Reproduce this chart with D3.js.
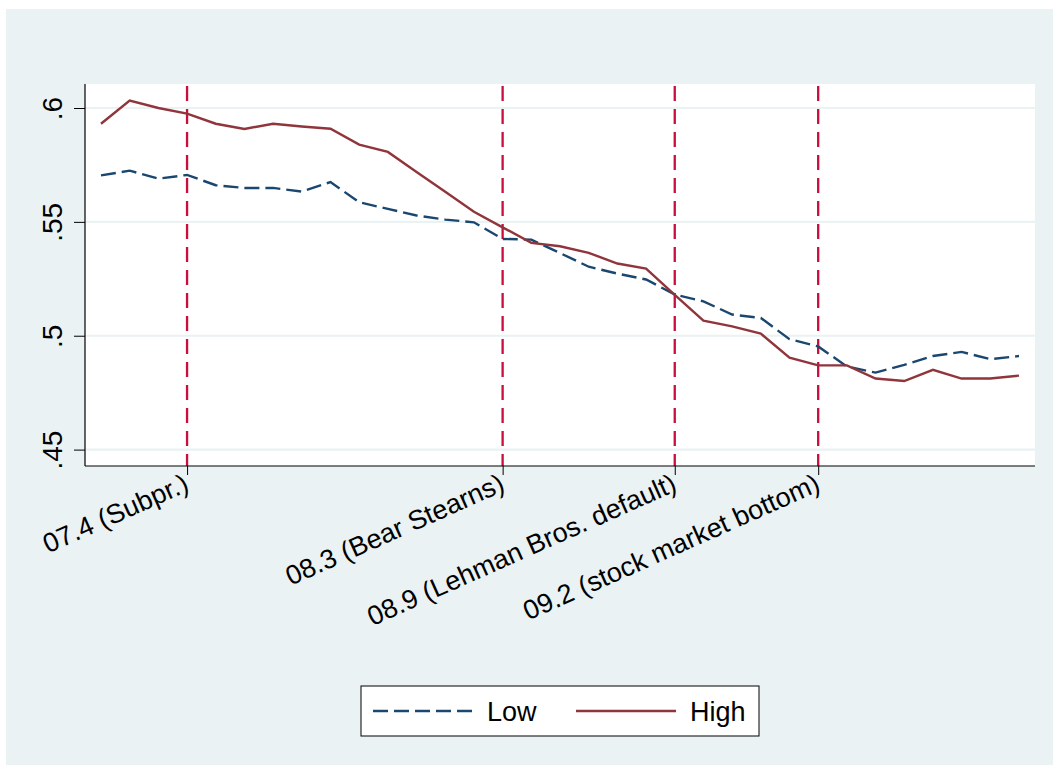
<!DOCTYPE html>
<html>
<head>
<meta charset="utf-8">
<script src="https://cdn.jsdelivr.net/npm/d3@7"></script>
<style>
    body { margin: 0; background: #fff; }
    text { font-family: "Liberation Sans", Arial, Helvetica, sans-serif; fill: #000; }
</style>
</head>
<body>
<div id="graph"></div>
<script>
// months since 2007.1 (0 = 07.1 ... 32 = 09.9)
var months = d3.range(0, 33);

var lowValues = [
    0.5704, 0.5725, 0.5690, 0.5706, 0.5661, 0.5649, 0.5649, 0.5633, 0.5675, 0.5586,
    0.5557, 0.5528, 0.5510, 0.5498, 0.5425, 0.5422, 0.5363, 0.5303, 0.5273, 0.5247,
    0.5181, 0.5151, 0.5093, 0.5078, 0.4985, 0.4953, 0.4865, 0.4838, 0.4872, 0.4911,
    0.4929, 0.4897, 0.4911
];

var highValues = [
    0.5931, 0.6033, 0.6000, 0.5975, 0.5931, 0.5908, 0.5931, 0.5919, 0.5909, 0.5839,
    0.5807, 0.5719, 0.5632, 0.5544, 0.5476, 0.5408, 0.5393, 0.5364, 0.5317, 0.5295,
    0.5179, 0.5066, 0.5041, 0.5009, 0.4904, 0.4870, 0.4870, 0.4812, 0.4801, 0.4850,
    0.4812, 0.4812, 0.4825
];

var eventMonths = [3, 14, 20, 25];
var eventLabels = ["07.4 (Subpr.)", "08.3 (Bear Stearns)", "08.9 (Lehman Bros. default)", "09.2 (stock market bottom)"];

var yTicks = [0.45, 0.5, 0.55, 0.6];

var seriesNames = ["Low", "High"];

var width = 1053,
    height = 765,
    plotLeft = 85,
    plotRight = 1035,
    plotTop = 84,
    plotBottom = 466;

var bg = '#eaf2f3',
    lowColor = '#1a476f',
    highColor = '#90353b',
    eventColor = '#c90d3c';

var svg = d3.select('#graph')
    .append('svg')
    .attr('width', width)
    .attr('height', height);

var x = d3.scaleLinear()
    .domain([0, 32])
    .range([101, 1019]);

var y = d3.scaleLinear()
    .domain([0.45, 0.6])
    .range([449.6, 108]);

// graph region + plot region
svg.append('rect')
    .attr('x', 6).attr('y', 9)
    .attr('width', width - 6).attr('height', height - 9)
    .attr('fill', bg);

svg.append('rect')
    .attr('x', plotLeft).attr('y', plotTop)
    .attr('width', plotRight - plotLeft).attr('height', plotBottom - plotTop)
    .attr('fill', '#fff');

// gridlines
svg.append('g').selectAll('line')
    .data(yTicks)
    .enter()
    .append('line')
    .attr('x1', plotLeft).attr('x2', plotRight)
    .attr('y1', function(d) { return y(d); })
    .attr('y2', function(d) { return y(d); })
    .attr('stroke', bg)
    .attr('stroke-width', 2.2);

// event lines
svg.append('g').selectAll('line')
    .data(eventMonths)
    .enter()
    .append('line')
    .attr('x1', function(d) { return x(d); })
    .attr('x2', function(d) { return x(d); })
    .attr('y1', plotTop + 2).attr('y2', plotBottom)
    .attr('stroke', eventColor)
    .attr('stroke-width', 2.3)
    .attr('stroke-dasharray', '15,8');

// series lines
var line = d3.line()
    .x(function(d, i) { return x(months[i]); })
    .y(function(d) { return y(d); });

svg.append('path')
    .datum(lowValues)
    .attr('d', line)
    .attr('fill', 'none')
    .attr('stroke', lowColor)
    .attr('stroke-width', 2.4)
    .attr('stroke-dasharray', '15,6');

svg.append('path')
    .datum(highValues)
    .attr('d', line)
    .attr('fill', 'none')
    .attr('stroke', highColor)
    .attr('stroke-width', 2.4);

// y axis
var yAxis = svg.append('g')
    .attr('transform', 'translate(' + plotLeft + ',0)')
    .call(d3.axisLeft(y)
        .tickValues(yTicks)
        .tickSize(11)
        .tickSizeOuter(0)
        .tickFormat(function(d) { return String(d).replace(/^0/, ''); }));
yAxis.select('.domain').remove();
yAxis.selectAll('.tick line').attr('stroke', '#000');
yAxis.selectAll('.tick text')
    .attr('x', null).attr('dy', null)
    .attr('transform', 'translate(-23,0) rotate(-90)')
    .attr('text-anchor', 'middle')
    .style('font-size', '28px')
    .style('font-family', null);

// x axis, labels slanted
var xAxis = svg.append('g')
    .attr('transform', 'translate(0,' + plotBottom + ')')
    .call(d3.axisBottom(x)
        .tickValues(eventMonths)
        .tickSize(9)
        .tickSizeOuter(0)
        .tickFormat(function(d, i) { return eventLabels[i]; }));
xAxis.select('.domain').remove();
xAxis.selectAll('.tick line').attr('stroke', '#000');
xAxis.selectAll('.tick text')
    .attr('y', null).attr('dy', null)
    .attr('transform', 'translate(3,24) rotate(-24)')
    .attr('text-anchor', 'end')
    .style('font-size', '27px')
    .style('font-family', null);

// axis lines
svg.append('line')
    .attr('x1', plotLeft).attr('x2', plotLeft)
    .attr('y1', plotTop).attr('y2', plotBottom)
    .attr('stroke', '#000').attr('stroke-width', 1.2);
svg.append('line')
    .attr('x1', plotLeft).attr('x2', plotRight)
    .attr('y1', plotBottom).attr('y2', plotBottom)
    .attr('stroke', '#000').attr('stroke-width', 1.2);

// legend
var legend = svg.append('g');
legend.append('rect')
    .attr('x', 361).attr('y', 686)
    .attr('width', 398).attr('height', 50)
    .attr('fill', '#fff')
    .attr('stroke', '#000')
    .attr('stroke-width', 1);

var legendItems = [
    { name: seriesNames[0], color: lowColor, dash: '15,6', x: 373 },
    { name: seriesNames[1], color: highColor, dash: null, x: 576 }
];

var item = legend.selectAll('.item')
    .data(legendItems)
    .enter()
    .append('g')
    .attr('class', 'item');

item.append('line')
    .attr('x1', function(d) { return d.x; })
    .attr('x2', function(d) { return d.x + 100; })
    .attr('y1', 711).attr('y2', 711)
    .attr('stroke', function(d) { return d.color; })
    .attr('stroke-width', 2.4)
    .attr('stroke-dasharray', function(d) { return d.dash; });

item.append('text')
    .attr('x', function(d) { return d.x + 114; })
    .attr('y', 721)
    .style('font-size', '27px')
    .text(function(d) { return d.name; });
</script>
</body>
</html>
